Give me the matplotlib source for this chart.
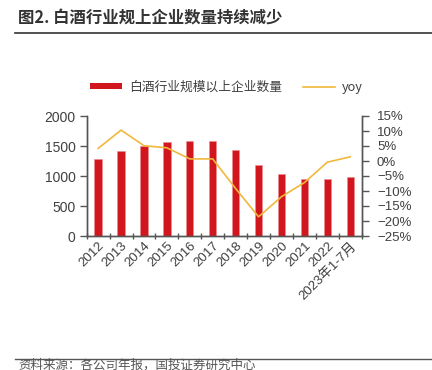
import matplotlib
matplotlib.use("Agg")
import matplotlib.pyplot as plt
from matplotlib.lines import Line2D
from matplotlib.patches import Patch
from matplotlib.ticker import FuncFormatter

plt.rcParams['font.family'] = ['Liberation Sans', 'Noto Sans CJK SC', 'DejaVu Sans']
plt.rcParams['axes.unicode_minus'] = True
cjk = ['Noto Sans CJK SC', 'DejaVu Sans']

categories = ['2012', '2013', '2014', '2015', '2016', '2017', '2018', '2019',
              '2020', '2021', '2022', '2023年1-7月']
counts = [1280, 1418, 1500, 1563, 1583, 1585, 1440, 1178, 1038, 952, 955, 978]
yoy = [4.2, 10.3, 5.1, 4.4, 0.7, 0.7, -9.2, -18.6, -11.9, -7.2, -0.4, 1.4]

title = '图2. 白酒行业规上企业数量持续减少'
bar_label = '白酒行业规模以上企业数量'
line_label = 'yoy'
source = '资料来源：各公司年报，国投证券研究中心'

red = '#D2161E'
gold = '#F0B83C'
gray = '#404040'
axc = '#555555'

fig = plt.figure(figsize=(4.32, 3.70), dpi=100)
ax = fig.add_axes([86.7/432, 1 - 236/370, (361.7 - 86.7)/432, 120/370])
ax2 = ax.twinx()

x = list(range(len(categories)))
ax.bar(x, counts, width=0.32, color=red, edgecolor='#E88A8E', linewidth=0.4, zorder=2)
ax2.plot(x, yoy, color=gold, linewidth=1.2, zorder=3)

ax.set_xlim(-0.5, len(categories) - 0.5)
ax.set_ylim(0, 2000)
ax.set_yticks([0, 500, 1000, 1500, 2000])
ax2.set_ylim(-25, 15)
ax2.set_yticks(list(range(-25, 16, 5)))
ax2.yaxis.set_major_formatter(FuncFormatter(lambda v, p: f'{int(v)}%'.replace('-', '\u2212')))

ax.set_xticks([i + 0.5 for i in range(-1, len(categories))], minor=False)
ax.set_xticklabels([])
ax.set_xticks(x, minor=True)
ax.set_xticklabels(categories, minor=True, rotation=45, ha='right', rotation_mode='anchor',
                   fontsize=9.5, color=gray)
ax.tick_params(axis='x', which='minor', length=0, pad=3)
ax.tick_params(axis='x', which='major', length=5, width=1, color=axc, direction='inout')

for a in (ax, ax2):
    for s in a.spines.values():
        s.set_color(axc)
        s.set_linewidth(1.0)
    a.spines['top'].set_visible(False)
ax.tick_params(axis='y', labelsize=10, labelcolor=gray, color=axc, length=5, width=1, pad=3)
ax2.tick_params(axis='y', labelsize=9.5, labelcolor=gray, color=axc, length=5, width=1, pad=6)

handles = [Patch(facecolor=red, edgecolor='none'), Line2D([0], [0], color=gold, linewidth=1.2)]
fig.legend(handles, [bar_label, line_label], loc='center', bbox_to_anchor=(0.524, 1 - 87/370),
           ncol=2, frameon=False, prop={'family': cjk, 'size': 9.2}, handlelength=2.5,
           handleheight=0.45, columnspacing=1.6, handletextpad=0.55, labelcolor=gray)

fig.text(18/432, 1 - 18/370, title, fontsize=11.8, fontweight='bold', color='#333333',
         va='center', ha='left', family=cjk)
fig.add_artist(Line2D([15/432, 1], [1 - 33/370, 1 - 33/370], color='#333333', linewidth=1.2))
fig.add_artist(Line2D([15/432, 1], [1 - 359/370, 1 - 359/370], color=axc, linewidth=1.0))
fig.text(18/432, 1 - 365/370, source, fontsize=9, color='#555555', va='center', ha='left',
         family=cjk)

fig.savefig('out.png', dpi=100)
